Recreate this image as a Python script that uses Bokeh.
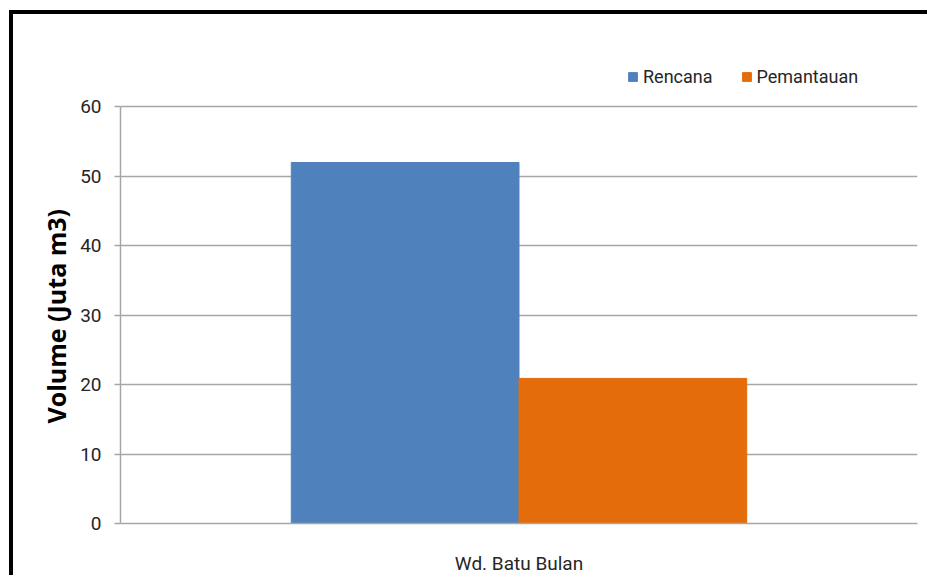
from bokeh.plotting import figure
from bokeh.models import ColumnDataSource, FactorRange, Legend, LegendItem, FixedTicker, Range1d
from bokeh.transform import dodge
from bokeh.embed import file_html
from bokeh.resources import INLINE

categories = ["Wd. Batu Bulan"]
rencana = [52.0]
pemantauan = [20.9]
series_names = ["Rencana", "Pemantauan"]
y_ticks = [0, 10, 20, 30, 40, 50, 60]
y_max = 60
y_title = "Volume (Juta m3)"

FONT = "Roboto"

# layout (pixels); figure box includes the 4px top/left border
W, H = 918, 565
CH = H - 4
ML, MR, MT, MB = 107, 14, 36, 56
axis_px = 413  # pixel height of the 0..60 part of the axis
frame_px = CH - MT - MB

src = ColumnDataSource(dict(cat=categories, rencana=rencana, pemantauan=pemantauan))

p = figure(width=W, height=H, x_range=FactorRange(*categories),
           y_range=Range1d(0, y_max * frame_px / axis_px),
           output_backend="svg", toolbar_location=None,
           min_border_left=ML, min_border_right=MR, min_border_top=MT, min_border_bottom=MB)
p.styles = {"border-top": "4px solid black", "border-left": "4px solid black",
            "margin-left": "9px", "margin-top": "10px"}
p.outline_line_color = None
p.background_fill_color = "white"
p.border_fill_color = "white"

r1 = p.vbar(x=dodge("cat", -0.142857, range=p.x_range), top="rencana", width=0.285714,
            source=src, fill_color="#4F81BD", line_color="#4F81BD")
r2 = p.vbar(x=dodge("cat", 0.142857, range=p.x_range), top="pemantauan", width=0.285714,
            source=src, fill_color="#E46C0A", line_color="#E46C0A")

p.yaxis.ticker = FixedTicker(ticks=y_ticks)
p.yaxis.bounds = (0, y_max)
# trailing no-break spaces keep the title centred on the 0..60 part of the axis
p.yaxis.axis_label = y_title + "\u00a0" * 9
p.yaxis.axis_label_text_font = "Open Sans"
p.yaxis.axis_label_text_font_style = "bold"
p.yaxis.axis_label_text_font_size = "25px"
p.yaxis.axis_label_text_color = "black"
p.yaxis.axis_label_standoff = 4
p.yaxis.major_label_text_font = FONT
p.yaxis.major_label_text_font_size = "19px"
p.yaxis.major_label_text_color = "#262626"
p.yaxis.major_label_standoff = 13
p.yaxis.axis_line_color = "#A6A6A6"
p.yaxis.axis_line_width = 1.5
p.yaxis.major_tick_line_color = "#A6A6A6"
p.yaxis.major_tick_line_width = 1.5
p.yaxis.major_tick_in = 0
p.yaxis.major_tick_out = 6
p.yaxis.minor_tick_line_color = None

p.xaxis.axis_line_color = "#A6A6A6"
p.xaxis.axis_line_width = 1.5
p.xaxis.major_tick_line_color = None
p.xaxis.major_label_text_font = FONT
p.xaxis.major_label_text_font_size = "19px"
p.xaxis.major_label_text_color = "#262626"
p.xaxis.major_label_standoff = 22

p.xgrid.grid_line_color = None
p.ygrid.grid_line_color = "#A6A6A6"
p.ygrid.grid_line_width = 1.5
p.ygrid.ticker = FixedTicker(ticks=y_ticks)

legend = Legend(items=[LegendItem(label=series_names[0], renderers=[r1]),
                       LegendItem(label=series_names[1], renderers=[r2])],
                orientation="horizontal", location=(507, frame_px - 33),
                label_text_font=FONT, label_text_font_size="18px", label_text_color="#262626",
                glyph_width=11, glyph_height=11, label_standoff=5, spacing=28,
                padding=0, margin=0, border_line_color=None, background_fill_alpha=0)
p.add_layout(legend, "center")

open("out.html", "w").write(file_html(p, INLINE))
